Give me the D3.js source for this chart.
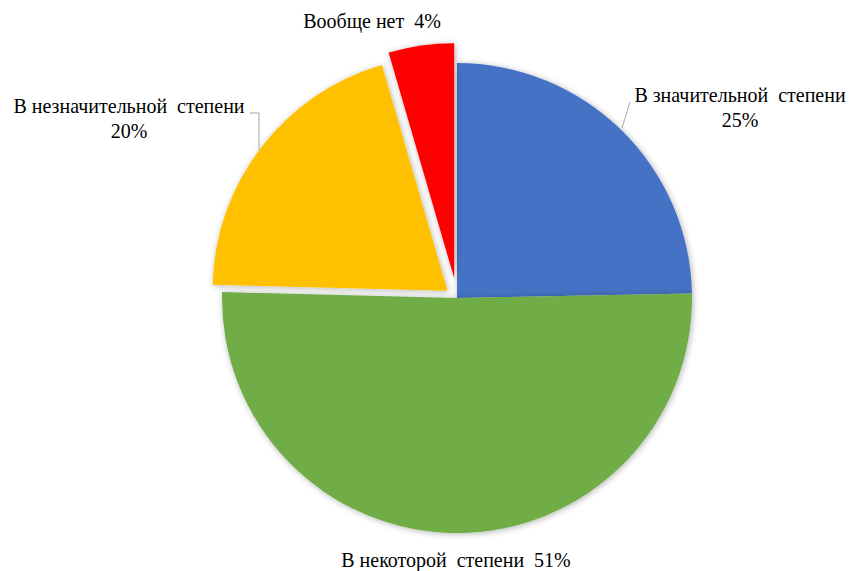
<!DOCTYPE html>
<html>
<head>
<meta charset="utf-8">
<script src="https://cdn.jsdelivr.net/npm/d3@7"></script>
</head>
<body style="margin:0">
<div id="chart"></div>
<script>
var width = 849
var height = 571

// data
var categories = ["В значительной степени", "В некоторой степени", "В незначительной степени", "Вообще нет"]
var values = [24.7, 50.7, 20.1, 4.5]
var pctLabels = ["25%", "51%", "20%", "4%"]
var colors = ["#4472C4", "#70AD47", "#FFC000", "#FF0000"]
var explode = [0, 0, 12, 20]

var cx = 457, cy = 298, radius = 235

var svg = d3.select("#chart")
    .append("svg")
    .attr("width", width)
    .attr("height", height)

var defs = svg.append("defs")
var filter = defs.append("filter")
    .attr("id", "shadow")
    .attr("x", "-20%").attr("y", "-20%")
    .attr("width", "140%").attr("height", "140%")
filter.append("feDropShadow")
    .attr("dx", 1)
    .attr("dy", 1)
    .attr("stdDeviation", 3)
    .attr("flood-color", "#000")
    .attr("flood-opacity", 0.3)

var pie = d3.pie()
    .sort(null)
    .startAngle(0)
    .endAngle(2 * Math.PI)
    .value(function(d) { return d; })

var arc = d3.arc()
    .innerRadius(0)
    .outerRadius(radius)

var arcs = pie(values)

var g = svg.append("g")
    .attr("transform", "translate(" + cx + "," + cy + ")")

g.selectAll("path")
    .data(arcs)
    .enter()
    .append("path")
    .attr("d", arc)
    .attr("fill", function(d, i) { return colors[i]; })
    .attr("filter", "url(#shadow)")
    .attr("transform", function(d, i) {
        var a = (d.startAngle + d.endAngle) / 2
        var dx = Math.sin(a) * explode[i]
        var dy = -Math.cos(a) * explode[i]
        return "translate(" + dx + "," + dy + ")";
    })

// leader lines
svg.append("path")
    .attr("d", "M630,102L622,128")
    .attr("stroke", "#a6a6a6")
    .attr("fill", "none")
svg.append("path")
    .attr("d", "M250,113H259V150")
    .attr("stroke", "#a6a6a6")
    .attr("fill", "none")

// wide gap before the last word, like the original
var gap = " \u00a0"
function spaced(s) {
    return s.replace(/ (\S+)$/, gap + "$1");
}

// data labels
var labelLayout = [
    { x: 740, lines: [spaced(categories[0]), pctLabels[0]], y: [102, 127] },
    { x: 456, lines: [spaced(categories[1]) + gap + pctLabels[1]], y: [567] },
    { x: 129, lines: [spaced(categories[2]), pctLabels[2]], y: [113, 138] },
    { x: 372, lines: [categories[3] + gap + pctLabels[3]], y: [28] }
]

// text drawn at 28px and scaled down to 20px
var k = 20 / 28

labelLayout.forEach(function(l) {
    l.lines.forEach(function(s, j) {
        svg.append("text")
            .attr("transform", "translate(" + l.x + "," + l.y[j] + ") scale(" + k + ")")
            .attr("x", 0)
            .attr("y", 0)
            .attr("font-size", 28)
            .attr("font-family", "Liberation Serif")
            .attr("text-anchor", "middle")
            .text(s)
    })
})
</script>
</body>
</html>
